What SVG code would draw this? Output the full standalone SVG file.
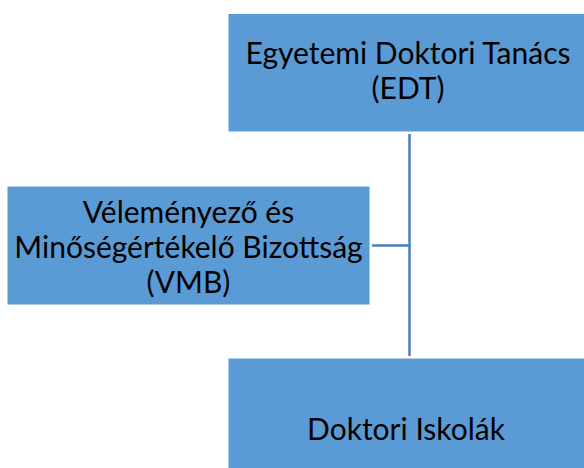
<svg xmlns="http://www.w3.org/2000/svg" width="584" height="468" viewBox="0 0 584 468">
<style>
.box{fill:#5B9BD5;stroke:#FFFFFF;stroke-width:1}
.lbl{font-family:Lato,"Open Sans","Liberation Sans",sans-serif;font-size:30px;fill:#000;text-anchor:middle}
.con{stroke:#4A7EBB;stroke-width:2.5;fill:none}
</style>
<rect width="584" height="468" fill="#FFFFFF"/>
<g id="connectors">
<path class="con" d="M409.5 134 V356"/>
<path class="con" d="M372 245.5 H409.5"/>
</g>
<g id="edt">
<rect class="box" x="228" y="13.5" width="357" height="118.5"/>
<text class="lbl" x="408" y="64">Egyetemi Doktori Tanács</text>
<text class="lbl" x="408" y="99">(EDT)</text>
</g>
<g id="vmb">
<rect class="box" x="7" y="186" width="363" height="119"/>
<text class="lbl" x="188.5" y="223">Véleményező és</text>
<text class="lbl" x="188.5" y="258">Minőségértékelő Bizottság</text>
<text class="lbl" x="188.5" y="293">(VMB)</text>
</g>
<g id="di">
<rect class="box" x="228" y="358" width="357" height="111"/>
<text class="lbl" x="406" y="440">Doktori Iskolák</text>
</g>
</svg>
